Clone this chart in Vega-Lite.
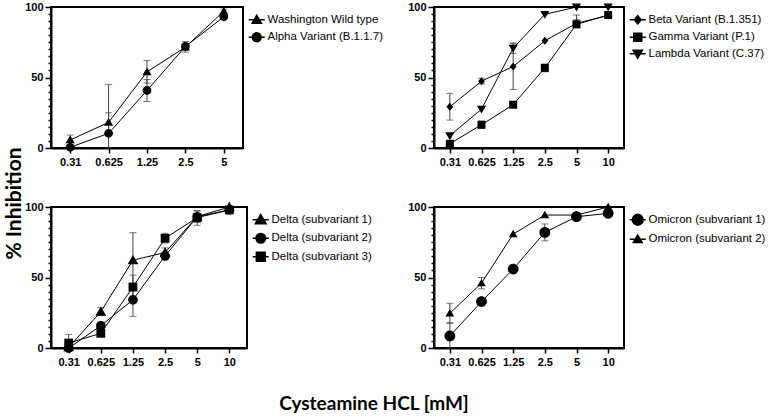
{
  "$schema": "https://vega.github.io/schema/vega-lite/v6.json",
  "padding": {"left": 2, "top": 0, "right": 0, "bottom": 0},
  "background": "white",
  "config": {
    "view": {"stroke": "black", "strokeWidth": 2},
    "axis": {"grid": false, "labelFont": "Liberation Sans", "labelFontWeight": "bold", "labelFontSize": 11, "labelColor": "black", "domainColor": "black", "domainWidth": 2, "tickColor": "black", "tickWidth": 1.5, "title": null},
    "legend": {"orient": "right", "offset": 1, "padding": 7, "labelFont": "Liberation Sans", "labelFontSize": 11.5, "labelColor": "black", "rowPadding": 2.5, "symbolSize": 64, "labelOffset": 5, "title": null},
    "title": {"font": "Lato", "fontWeight": "bold", "color": "black"}
  },
  "datasets": {
    "main": [
      {"panel": "A", "series": "Washington Wild type", "conc": "0.31", "val": 5.7, "lo": 2, "hi": 9.2},
      {"panel": "A", "series": "Washington Wild type", "conc": "0.625", "val": 18.2, "lo": 11, "hi": 25},
      {"panel": "A", "series": "Washington Wild type", "conc": "1.25", "val": 54, "lo": 46, "hi": 62},
      {"panel": "A", "series": "Washington Wild type", "conc": "2.5", "val": 71.5, "lo": 68, "hi": 75.5},
      {"panel": "A", "series": "Washington Wild type", "conc": "5", "val": 97, "lo": 95.5, "hi": 98.5},
      {"panel": "A", "series": "Alpha Variant (B.1.1.7)", "conc": "0.31", "val": 0.5, "lo": 0, "hi": 2},
      {"panel": "A", "series": "Alpha Variant (B.1.1.7)", "conc": "0.625", "val": 10.4, "lo": 0, "hi": 45},
      {"panel": "A", "series": "Alpha Variant (B.1.1.7)", "conc": "1.25", "val": 40.8, "lo": 33, "hi": 48.6},
      {"panel": "A", "series": "Alpha Variant (B.1.1.7)", "conc": "2.5", "val": 72, "lo": 70, "hi": 74},
      {"panel": "A", "series": "Alpha Variant (B.1.1.7)", "conc": "5", "val": 93, "lo": 91.5, "hi": 94.5},
      {"panel": "B", "series": "Beta Variant (B.1.351)", "conc": "0.31", "val": 29.2, "lo": 19.8, "hi": 38.7},
      {"panel": "B", "series": "Beta Variant (B.1.351)", "conc": "0.625", "val": 47.4, "lo": 45.5, "hi": 49.5},
      {"panel": "B", "series": "Beta Variant (B.1.351)", "conc": "1.25", "val": 57.8, "lo": 41.5, "hi": 74},
      {"panel": "B", "series": "Beta Variant (B.1.351)", "conc": "2.5", "val": 76},
      {"panel": "B", "series": "Beta Variant (B.1.351)", "conc": "5", "val": 88.4, "lo": 86, "hi": 91},
      {"panel": "B", "series": "Beta Variant (B.1.351)", "conc": "10", "val": 94},
      {"panel": "B", "series": "Gamma Variant (P.1)", "conc": "0.31", "val": 3, "lo": 1.5, "hi": 4.5},
      {"panel": "B", "series": "Gamma Variant (P.1)", "conc": "0.625", "val": 16.5, "lo": 14, "hi": 19},
      {"panel": "B", "series": "Gamma Variant (P.1)", "conc": "1.25", "val": 30.7},
      {"panel": "B", "series": "Gamma Variant (P.1)", "conc": "2.5", "val": 56.8, "lo": 54, "hi": 59.5},
      {"panel": "B", "series": "Gamma Variant (P.1)", "conc": "5", "val": 87.7, "lo": 85.4, "hi": 94.3},
      {"panel": "B", "series": "Gamma Variant (P.1)", "conc": "10", "val": 94.3},
      {"panel": "B", "series": "Lambda Variant (C.37)", "conc": "0.31", "val": 8.7},
      {"panel": "B", "series": "Lambda Variant (C.37)", "conc": "0.625", "val": 27.6},
      {"panel": "B", "series": "Lambda Variant (C.37)", "conc": "1.25", "val": 70.8, "lo": 67, "hi": 74.5},
      {"panel": "B", "series": "Lambda Variant (C.37)", "conc": "2.5", "val": 94.8},
      {"panel": "B", "series": "Lambda Variant (C.37)", "conc": "5", "val": 100},
      {"panel": "B", "series": "Lambda Variant (C.37)", "conc": "10", "val": 100},
      {"panel": "C", "series": "Delta (subvariant 1)", "conc": "0.31", "val": 0.5},
      {"panel": "C", "series": "Delta (subvariant 1)", "conc": "0.625", "val": 25.7, "lo": 23, "hi": 28.8},
      {"panel": "C", "series": "Delta (subvariant 1)", "conc": "1.25", "val": 62.3, "lo": 42.8, "hi": 81.8},
      {"panel": "C", "series": "Delta (subvariant 1)", "conc": "2.5", "val": 67.7, "lo": 64, "hi": 71},
      {"panel": "C", "series": "Delta (subvariant 1)", "conc": "5", "val": 93.2, "lo": 89, "hi": 97},
      {"panel": "C", "series": "Delta (subvariant 1)", "conc": "10", "val": 100},
      {"panel": "C", "series": "Delta (subvariant 2)", "conc": "0.31", "val": 0},
      {"panel": "C", "series": "Delta (subvariant 2)", "conc": "0.625", "val": 15.8, "lo": 13, "hi": 18.5},
      {"panel": "C", "series": "Delta (subvariant 2)", "conc": "1.25", "val": 34.2, "lo": 22.4, "hi": 46},
      {"panel": "C", "series": "Delta (subvariant 2)", "conc": "2.5", "val": 65.3, "lo": 63, "hi": 67.5},
      {"panel": "C", "series": "Delta (subvariant 2)", "conc": "5", "val": 93, "lo": 91, "hi": 95},
      {"panel": "C", "series": "Delta (subvariant 2)", "conc": "10", "val": 98},
      {"panel": "C", "series": "Delta (subvariant 3)", "conc": "0.31", "val": 3.5, "lo": 0, "hi": 9.7},
      {"panel": "C", "series": "Delta (subvariant 3)", "conc": "0.625", "val": 10.4},
      {"panel": "C", "series": "Delta (subvariant 3)", "conc": "1.25", "val": 43.2, "lo": 34.7, "hi": 51.7},
      {"panel": "C", "series": "Delta (subvariant 3)", "conc": "2.5", "val": 77.8, "lo": 74.5, "hi": 81.3},
      {"panel": "C", "series": "Delta (subvariant 3)", "conc": "5", "val": 92.5, "lo": 87, "hi": 97.5},
      {"panel": "C", "series": "Delta (subvariant 3)", "conc": "10", "val": 97.9},
      {"panel": "D", "series": "Omicron (subvariant 1)", "conc": "0.31", "val": 8.5, "lo": 0, "hi": 18},
      {"panel": "D", "series": "Omicron (subvariant 1)", "conc": "0.625", "val": 32.9},
      {"panel": "D", "series": "Omicron (subvariant 1)", "conc": "1.25", "val": 56},
      {"panel": "D", "series": "Omicron (subvariant 1)", "conc": "2.5", "val": 82, "lo": 76, "hi": 88},
      {"panel": "D", "series": "Omicron (subvariant 1)", "conc": "5", "val": 93.1, "lo": 91.5, "hi": 95},
      {"panel": "D", "series": "Omicron (subvariant 1)", "conc": "10", "val": 95.5, "lo": 94, "hi": 97},
      {"panel": "D", "series": "Omicron (subvariant 2)", "conc": "0.31", "val": 24.6, "lo": 17.5, "hi": 31.7},
      {"panel": "D", "series": "Omicron (subvariant 2)", "conc": "0.625", "val": 46, "lo": 42, "hi": 50},
      {"panel": "D", "series": "Omicron (subvariant 2)", "conc": "1.25", "val": 80.8},
      {"panel": "D", "series": "Omicron (subvariant 2)", "conc": "2.5", "val": 94.3},
      {"panel": "D", "series": "Omicron (subvariant 2)", "conc": "5", "val": 94.3},
      {"panel": "D", "series": "Omicron (subvariant 2)", "conc": "10", "val": 100}
    ]
  },
  "title": {"text": "Cysteamine HCL [mM]", "orient": "bottom", "fontSize": 19, "offset": 27, "anchor": "middle", "dx": -14},
  "columns": 2,
  "bounds": "flush",
  "spacing": {"row": 59, "column": 187},
  "resolve": {"scale": {"shape": "independent", "x": "independent", "y": "independent"}, "legend": {"shape": "independent"}},
  "concat": [
    {
      "width": 192, "height": 141,
      "data": {"name": "main"},
      "transform": [{"filter": "datum.panel === 'A'"}],
      "resolve": {"scale": {"shape": "independent"}, "legend": {"shape": "independent"}},
      "encoding": {
        "x": {"field": "conc", "type": "ordinal", "scale": {"type": "point", "domain": ["0.31", "0.625", "1.25", "2.5", "5"], "padding": 0.5}, "axis": {"labelAngle": 0, "tickSize": 5, "labelPadding": 3}},
        "y": {"field": "val", "type": "quantitative", "scale": {"domain": [0, 100], "nice": false}, "axis": {"values": [0,5,10,15,20,25,30,35,40,45,50,55,60,65,70,75,80,85,90,95,100], "labelExpr": "datum.value % 50 === 0 ? datum.label : ''", "tickSize": {"condition": {"test": "datum.value % 50 === 0", "value": 6}, "value": 3}, "labelPadding": 2, "title": "% Inhibition", "titleFont": "Lato", "titleFontWeight": "bold", "titleFontSize": 21, "titleColor": "black", "titleAngle": 270, "titleAlign": "center", "titleBaseline": "middle", "titleX": -37, "titleY": 196}}
      },
      "layer": [
        {"data": {"values": [{"letter": "A"}]}, "mark": {"type": "rule", "strokeDash": [1.5, 3.5], "color": "black", "strokeWidth": 1.2}, "encoding": {"x": null, "y": {"datum": 50, "type": "quantitative"}}},
        {"mark": {"type": "rule", "color": "#444", "strokeWidth": 1}, "encoding": {"y": {"field": "lo", "type": "quantitative"}, "y2": {"field": "hi"}}},
        {"mark": {"type": "tick", "orient": "horizontal", "color": "#444", "size": 7, "thickness": 1}, "encoding": {"y": {"field": "lo", "type": "quantitative"}}},
        {"mark": {"type": "tick", "orient": "horizontal", "color": "#444", "size": 7, "thickness": 1}, "encoding": {"y": {"field": "hi", "type": "quantitative"}}},
        {"mark": {"type": "line", "color": "black", "strokeWidth": 1}, "encoding": {"detail": {"field": "series"}, "order": {"value": null}}},
        {"transform": [{"filter": "false"}], "mark": {"type": "point", "filled": false, "color": "black", "fill": "black", "stroke": "black", "opacity": 1, "strokeWidth": 1, "size": 64}, "encoding": {"shape": {"field": "series", "type": "nominal", "scale": {"domain": ["Washington Wild type", "Alpha Variant (B.1.1.7)"], "range": ["M-2,0H2M0,-1.1L1.15,0.85L-1.15,0.85Z", "M-2,0H2M1.1,0A1.1,1.1 0 1,1 -1.1,0A1.1,1.1 0 1,1 1.1,0Z"]}}}},
        {"mark": {"type": "point", "filled": true, "color": "black", "opacity": 1, "strokeWidth": 0, "size": 64}, "encoding": {"shape": {"field": "series", "type": "nominal", "legend": null, "scale": {"domain": ["Washington Wild type", "Alpha Variant (B.1.1.7)"], "range": ["M0,-1.1L1.15,0.85L-1.15,0.85Z", "M1.1,0A1.1,1.1 0 1,1 -1.1,0A1.1,1.1 0 1,1 1.1,0Z"]}}}},
        {"data": {"values": [{"letter": "A"}]}, "mark": {"type": "text", "font": "Liberation Sans", "fontWeight": "bold", "fontSize": 16, "color": "black", "baseline": "middle"}, "encoding": {"x": {"datum": "0.31", "type": "ordinal"}, "y": {"datum": 91, "type": "quantitative"}, "text": {"field": "letter"}}}
      ]
    },
    {
      "width": 190, "height": 141,
      "data": {"name": "main"},
      "transform": [{"filter": "datum.panel === 'B'"}],
      "resolve": {"scale": {"shape": "independent"}, "legend": {"shape": "independent"}},
      "encoding": {
        "x": {"field": "conc", "type": "ordinal", "scale": {"type": "point", "domain": ["0.31", "0.625", "1.25", "2.5", "5", "10"], "padding": 0.5}, "axis": {"labelAngle": 0, "tickSize": 5, "labelPadding": 3}},
        "y": {"field": "val", "type": "quantitative", "scale": {"domain": [0, 100], "nice": false}, "axis": {"values": [0,5,10,15,20,25,30,35,40,45,50,55,60,65,70,75,80,85,90,95,100], "labelExpr": "datum.value % 50 === 0 ? datum.label : ''", "tickSize": {"condition": {"test": "datum.value % 50 === 0", "value": 6}, "value": 3}, "labelPadding": 2}}
      },
      "layer": [
        {"data": {"values": [{"letter": "B"}]}, "mark": {"type": "rule", "strokeDash": [1.5, 3.5], "color": "black", "strokeWidth": 1.2}, "encoding": {"x": null, "y": {"datum": 50, "type": "quantitative"}}},
        {"mark": {"type": "rule", "color": "#444", "strokeWidth": 1}, "encoding": {"y": {"field": "lo", "type": "quantitative"}, "y2": {"field": "hi"}}},
        {"mark": {"type": "tick", "orient": "horizontal", "color": "#444", "size": 7, "thickness": 1}, "encoding": {"y": {"field": "lo", "type": "quantitative"}}},
        {"mark": {"type": "tick", "orient": "horizontal", "color": "#444", "size": 7, "thickness": 1}, "encoding": {"y": {"field": "hi", "type": "quantitative"}}},
        {"mark": {"type": "line", "color": "black", "strokeWidth": 1}, "encoding": {"detail": {"field": "series"}, "order": {"value": null}}},
        {"transform": [{"filter": "false"}], "mark": {"type": "point", "filled": false, "color": "black", "fill": "black", "stroke": "black", "opacity": 1, "strokeWidth": 1, "size": 64}, "encoding": {"shape": {"field": "series", "type": "nominal", "scale": {"domain": ["Beta Variant (B.1.351)", "Gamma Variant (P.1)", "Lambda Variant (C.37)"], "range": ["M-2,0H2M0,-1L0.85,0L0,1L-0.85,0Z", "M-2,0H2M-1,-1H1V1H-1Z", "M-2,0H2M0,1.1L1.15,-0.85L-1.15,-0.85Z"]}}}},
        {"mark": {"type": "point", "filled": true, "color": "black", "opacity": 1, "strokeWidth": 0, "size": 64}, "encoding": {"shape": {"field": "series", "type": "nominal", "legend": null, "scale": {"domain": ["Beta Variant (B.1.351)", "Gamma Variant (P.1)", "Lambda Variant (C.37)"], "range": ["M0,-1L0.85,0L0,1L-0.85,0Z", "M-1,-1H1V1H-1Z", "M0,1.1L1.15,-0.85L-1.15,-0.85Z"]}}}},
        {"data": {"values": [{"letter": "B"}]}, "mark": {"type": "text", "font": "Liberation Sans", "fontWeight": "bold", "fontSize": 16, "color": "black", "baseline": "middle"}, "encoding": {"x": {"datum": "0.31", "type": "ordinal"}, "y": {"datum": 91, "type": "quantitative"}, "text": {"field": "letter"}}}
      ]
    },
    {
      "width": 196, "height": 141,
      "data": {"name": "main"},
      "transform": [{"filter": "datum.panel === 'C'"}],
      "resolve": {"scale": {"shape": "independent"}, "legend": {"shape": "independent"}},
      "encoding": {
        "x": {"field": "conc", "type": "ordinal", "scale": {"type": "point", "domain": ["0.31", "0.625", "1.25", "2.5", "5", "10"], "padding": 0.55}, "axis": {"labelAngle": 0, "tickSize": 5, "labelPadding": 3}},
        "y": {"field": "val", "type": "quantitative", "scale": {"domain": [0, 100], "nice": false}, "axis": {"values": [0,5,10,15,20,25,30,35,40,45,50,55,60,65,70,75,80,85,90,95,100], "labelExpr": "datum.value % 50 === 0 ? datum.label : ''", "tickSize": {"condition": {"test": "datum.value % 50 === 0", "value": 6}, "value": 3}, "labelPadding": 2}}
      },
      "layer": [
        {"data": {"values": [{"letter": "C"}]}, "mark": {"type": "rule", "strokeDash": [1.5, 3.5], "color": "black", "strokeWidth": 1.2}, "encoding": {"x": null, "y": {"datum": 50, "type": "quantitative"}}},
        {"mark": {"type": "rule", "color": "#444", "strokeWidth": 1}, "encoding": {"y": {"field": "lo", "type": "quantitative"}, "y2": {"field": "hi"}}},
        {"mark": {"type": "tick", "orient": "horizontal", "color": "#444", "size": 7, "thickness": 1}, "encoding": {"y": {"field": "lo", "type": "quantitative"}}},
        {"mark": {"type": "tick", "orient": "horizontal", "color": "#444", "size": 7, "thickness": 1}, "encoding": {"y": {"field": "hi", "type": "quantitative"}}},
        {"mark": {"type": "line", "color": "black", "strokeWidth": 1}, "encoding": {"detail": {"field": "series"}, "order": {"value": null}}},
        {"transform": [{"filter": "false"}], "mark": {"type": "point", "filled": false, "color": "black", "fill": "black", "stroke": "black", "opacity": 1, "strokeWidth": 1, "size": 64}, "encoding": {"shape": {"field": "series", "type": "nominal", "scale": {"domain": ["Delta (subvariant 1)", "Delta (subvariant 2)", "Delta (subvariant 3)"], "range": ["M-2,0H2M0,-1.3L1.35,1L-1.35,1Z", "M-2,0H2M1.2,0A1.2,1.2 0 1,1 -1.2,0A1.2,1.2 0 1,1 1.2,0Z", "M-2,0H2M-1.1,-1.1H1.1V1.1H-1.1Z"]}}}},
        {"mark": {"type": "point", "filled": true, "color": "black", "opacity": 1, "strokeWidth": 0, "size": 64}, "encoding": {"shape": {"field": "series", "type": "nominal", "legend": null, "scale": {"domain": ["Delta (subvariant 1)", "Delta (subvariant 2)", "Delta (subvariant 3)"], "range": ["M0,-1.3L1.35,1L-1.35,1Z", "M1.2,0A1.2,1.2 0 1,1 -1.2,0A1.2,1.2 0 1,1 1.2,0Z", "M-1.1,-1.1H1.1V1.1H-1.1Z"]}}}},
        {"data": {"values": [{"letter": "C"}]}, "mark": {"type": "text", "font": "Liberation Sans", "fontWeight": "bold", "fontSize": 16, "color": "black", "baseline": "middle"}, "encoding": {"x": {"datum": "0.31", "type": "ordinal"}, "y": {"datum": 91, "type": "quantitative"}, "text": {"field": "letter"}}}
      ]
    },
    {
      "width": 190, "height": 141,
      "data": {"name": "main"},
      "transform": [{"filter": "datum.panel === 'D'"}],
      "resolve": {"scale": {"shape": "independent"}, "legend": {"shape": "independent"}},
      "encoding": {
        "x": {"field": "conc", "type": "ordinal", "scale": {"type": "point", "domain": ["0.31", "0.625", "1.25", "2.5", "5", "10"], "padding": 0.5}, "axis": {"labelAngle": 0, "tickSize": 5, "labelPadding": 3}},
        "y": {"field": "val", "type": "quantitative", "scale": {"domain": [0, 100], "nice": false}, "axis": {"values": [0,5,10,15,20,25,30,35,40,45,50,55,60,65,70,75,80,85,90,95,100], "labelExpr": "datum.value % 50 === 0 ? datum.label : ''", "tickSize": {"condition": {"test": "datum.value % 50 === 0", "value": 6}, "value": 3}, "labelPadding": 2}}
      },
      "layer": [
        {"data": {"values": [{"letter": "D"}]}, "mark": {"type": "rule", "strokeDash": [1.5, 3.5], "color": "black", "strokeWidth": 1.2}, "encoding": {"x": null, "y": {"datum": 50, "type": "quantitative"}}},
        {"mark": {"type": "rule", "color": "#444", "strokeWidth": 1}, "encoding": {"y": {"field": "lo", "type": "quantitative"}, "y2": {"field": "hi"}}},
        {"mark": {"type": "tick", "orient": "horizontal", "color": "#444", "size": 7, "thickness": 1}, "encoding": {"y": {"field": "lo", "type": "quantitative"}}},
        {"mark": {"type": "tick", "orient": "horizontal", "color": "#444", "size": 7, "thickness": 1}, "encoding": {"y": {"field": "hi", "type": "quantitative"}}},
        {"mark": {"type": "line", "color": "black", "strokeWidth": 1}, "encoding": {"detail": {"field": "series"}, "order": {"value": null}}},
        {"transform": [{"filter": "false"}], "mark": {"type": "point", "filled": false, "color": "black", "fill": "black", "stroke": "black", "opacity": 1, "strokeWidth": 1, "size": 64}, "encoding": {"shape": {"field": "series", "type": "nominal", "scale": {"domain": ["Omicron (subvariant 1)", "Omicron (subvariant 2)"], "range": ["M-2,0H2M1.35,0A1.35,1.35 0 1,1 -1.35,0A1.35,1.35 0 1,1 1.35,0Z", "M-2,0H2M0,-1.05L1.1,0.8L-1.1,0.8Z"]}}}},
        {"mark": {"type": "point", "filled": true, "color": "black", "opacity": 1, "strokeWidth": 0, "size": 64}, "encoding": {"shape": {"field": "series", "type": "nominal", "legend": null, "scale": {"domain": ["Omicron (subvariant 1)", "Omicron (subvariant 2)"], "range": ["M1.35,0A1.35,1.35 0 1,1 -1.35,0A1.35,1.35 0 1,1 1.35,0Z", "M0,-1.05L1.1,0.8L-1.1,0.8Z"]}}}},
        {"data": {"values": [{"letter": "D"}]}, "mark": {"type": "text", "font": "Liberation Sans", "fontWeight": "bold", "fontSize": 16, "color": "black", "baseline": "middle"}, "encoding": {"x": {"datum": "0.31", "type": "ordinal"}, "y": {"datum": 91, "type": "quantitative"}, "text": {"field": "letter"}}}
      ]
    }
  ]
}
